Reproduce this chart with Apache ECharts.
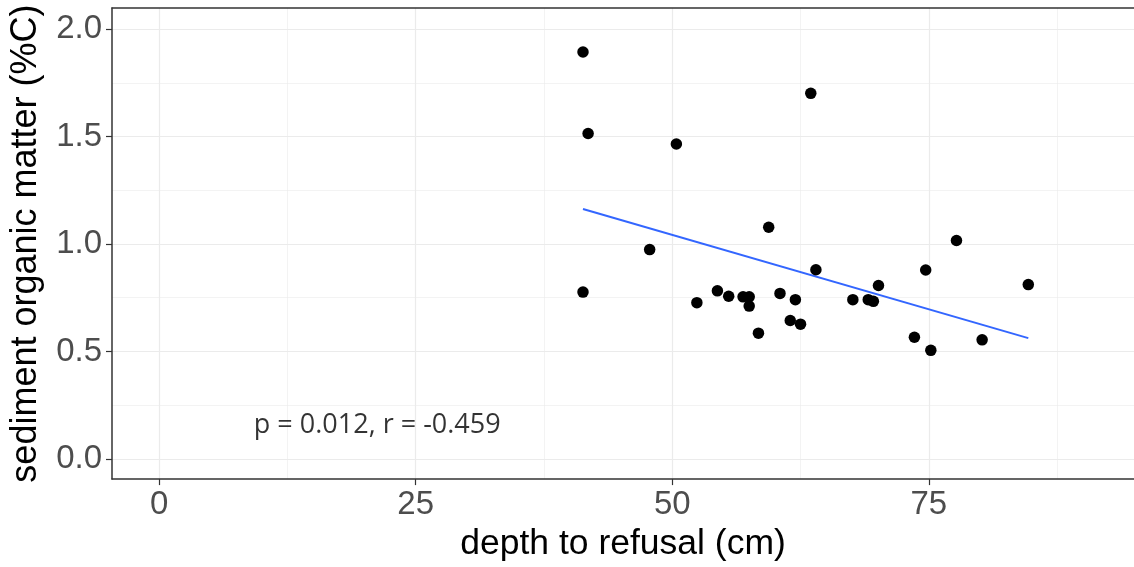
<!DOCTYPE html>
<html>
<head>
<meta charset="utf-8">
<script src="https://cdn.jsdelivr.net/npm/echarts@6/dist/echarts.min.js"></script>
<style>html,body{margin:0;padding:0;background:#fff;overflow:hidden}#c{width:1134px;height:567px}</style>
</head>
<body>
<div id="c"></div>
<script>
// depth to refusal (cm)
const depth = [41.3, 41.8, 50.4, 63.5, 41.3, 47.8, 52.4, 54.4, 55.5, 56.9, 57.5, 57.5, 58.4, 59.4, 60.5, 61.5, 62.0, 62.5, 64.0, 67.6, 69.1, 69.6, 70.1, 73.6, 74.7, 75.2, 77.7, 80.2, 84.7];
// sediment organic matter (%C)
const organic = [1.893, 1.514, 1.465, 1.701, 0.776, 0.974, 0.727, 0.782, 0.757, 0.754, 0.754, 0.711, 0.585, 1.078, 0.770, 0.644, 0.741, 0.627, 0.880, 0.741, 0.741, 0.733, 0.807, 0.566, 0.879, 0.505, 1.016, 0.554, 0.811];
// linear fit endpoints
const fitX = [41.3, 84.7];
const fitY = [1.163, 0.562];
const xTicks = [0, 25, 50, 75];
const xMinor = [12.5, 37.5, 62.5, 87.5];
const yTicks = [0, 0.5, 1.0, 1.5, 2.0];
const yMinor = [0.25, 0.75, 1.25, 1.75];
const annotText = 'p = 0.012, r = -0.459';
const annotPos = [21.25, 0.155];

const chart = echarts.init(document.getElementById('c'), null, {renderer: 'canvas'});
const gridLines = [];
xMinor.forEach(v => gridLines.push({xAxis: v, lineStyle: {width: 0.6}}));
yMinor.forEach(v => gridLines.push({yAxis: v, lineStyle: {width: 0.6}}));
xTicks.forEach(v => gridLines.push({xAxis: v, lineStyle: {width: 1.2}}));
yTicks.forEach(v => gridLines.push({yAxis: v, lineStyle: {width: 1.2}}));
const frame = {show: true, onZero: false, lineStyle: {color: '#333333', width: 1.5}};

chart.setOption({
  animation: false,
  backgroundColor: '#fff',
  grid: {left: 111, right: 0, top: 8, bottom: 84, show: false},
  xAxis: [{
    type: 'value', min: -4.6, max: 95.0,
    name: 'depth to refusal (cm)', nameLocation: 'middle', nameGap: 45,
    nameTextStyle: {fontFamily: 'Liberation Sans', fontSize: 35.5, color: '#000'},
    axisLine: frame,
    axisTick: {show: true, customValues: xTicks, length: 6, lineStyle: {color: '#333333', width: 1.2}},
    axisLabel: {customValues: xTicks, fontFamily: 'Liberation Sans', fontSize: 33, color: '#4D4D4D', margin: 9},
    splitLine: {show: false}
  }, {
    type: 'value', min: -4.6, max: 95.0, position: 'top',
    axisLine: frame, axisTick: {show: false}, axisLabel: {show: false}, splitLine: {show: false}
  }],
  yAxis: {
    type: 'value', min: -0.094, max: 2.098,
    name: 'sediment organic matter (%C)', nameLocation: 'middle', nameGap: 68, nameRotate: 90,
    nameTextStyle: {fontFamily: 'Liberation Sans', fontSize: 36, color: '#000'},
    axisLine: frame,
    axisTick: {show: true, customValues: yTicks, length: 6, lineStyle: {color: '#333333', width: 1.2}},
    axisLabel: {customValues: yTicks, fontFamily: 'Liberation Sans', fontSize: 33, color: '#4D4D4D', margin: 10,
      formatter: v => v.toFixed(1)},
    splitLine: {show: false}
  },
  series: [
    {
      type: 'line', data: [], silent: true, z: 0,
      markLine: {silent: true, symbol: 'none', label: {show: false}, animation: false, z: 0,
        lineStyle: {color: '#EBEBEB', type: 'solid'}, data: gridLines}
    },
    {
      type: 'line', data: fitX.map((x, i) => [x, fitY[i]]), showSymbol: false, symbol: 'none',
      lineStyle: {color: '#3366FF', width: 2}, z: 3, silent: true
    },
    {
      type: 'scatter', data: depth.map((x, i) => [x, organic[i]]), symbolSize: 11.5,
      itemStyle: {color: '#000', opacity: 1}, z: 6
    },
    {
      type: 'scatter', data: [annotPos], symbolSize: 0, silent: true, z: 7,
      label: {show: true, position: 'inside', formatter: annotText, fontFamily: 'Open Sans', fontSize: 27, color: '#000'}
    }
  ]
});
</script>
</body>
</html>
